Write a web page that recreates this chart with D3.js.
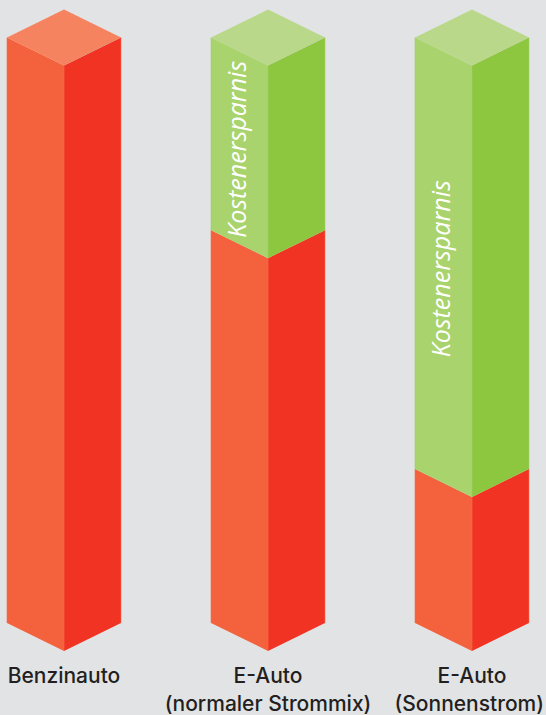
<!DOCTYPE html>
<html>
<head>
<meta charset="utf-8">
<script src="https://cdn.jsdelivr.net/npm/d3@7"></script>
<style>
  html, body { margin: 0; padding: 0; background: #e2e3e5; }
  svg { display: block; }
  .label { font-family: Inter, Roboto, sans-serif; font-weight: 500; font-size: 21px; fill: #231f20; text-anchor: middle; }
  .saving { font-family: "Open Sans", sans-serif; font-style: italic; font-size: 25px; fill: #fff; }
</style>
</head>
<body>
<svg width="546" height="715"></svg>
<script>
const categories = ['Benzinauto', 'E-Auto', 'E-Auto'];
const subLabels = ['', '(normaler Strommix)', '(Sonnenstrom)'];
// share of the petrol car's cost, in percent
const costs = [100, 67.1, 26.3];

const WIDTH = 546;
const HEIGHT = 715;
const HALF = 57; // half width of a column
const DEPTH = 28; // vertical drop of the isometric edges

const colors = {
  cost: {left: '#f3623d', right: '#f13323', top: '#f6835f', edge: '#f5714f'},
  saving: {left: '#a9d36d', right: '#8dc63f', top: '#b9d88a', edge: '#a3d267'},
};

const x = d3.scalePoint()
  .domain(d3.range(categories.length))
  .range([64, 472]);
const y = d3.scaleLinear()
  .domain([0, 100])
  .range([623, 37.5]);

const svg = d3.select('svg')
  .attr('viewBox', `0 0 ${WIDTH} ${HEIGHT}`);

const line = d3.line();

// one block: left and right faces between two values
function drawFaces(g, cx, from, to, c) {
  const y0 = y(from);
  const y1 = y(to);
  g.append('path')
    .attr('d', line([[cx - HALF, y1], [cx, y1 + DEPTH], [cx, y0 + DEPTH], [cx - HALF, y0]]) + 'Z')
    .attr('fill', c.left);
  g.append('path')
    .attr('d', line([[cx, y1 + DEPTH], [cx + HALF, y1], [cx + HALF, y0], [cx, y0 + DEPTH]]) + 'Z')
    .attr('fill', c.right);
  // thin lighter edges
  [cx - HALF, cx, cx + HALF].forEach((ex) => {
    const drop = ex === cx ? DEPTH : 0;
    g.append('path')
      .attr('d', line([[ex, y1 + drop], [ex, y0 + drop]]))
      .attr('stroke', c.edge)
      .attr('stroke-width', 0.6);
  });
}

costs.forEach((cost, i) => {
  const cx = x(i);
  const g = svg.append('g');
  const hasSaving = cost < 100;
  const topColors = hasSaving ? colors.saving : colors.cost;

  drawFaces(g, cx, 0, cost, colors.cost);
  if (hasSaving) {
    drawFaces(g, cx, cost, 100, colors.saving);
  }

  // top face
  const yt = y(100);
  g.append('path')
    .attr('d', line([[cx - HALF, yt], [cx, yt - DEPTH], [cx + HALF, yt], [cx, yt + DEPTH]]) + 'Z')
    .attr('fill', topColors.top);

  if (hasSaving) {
    const mid = (y(100) + y(cost)) / 2 + DEPTH - 12.5;
    g.append('text')
      .attr('class', 'saving')
      .attr('text-anchor', 'middle')
      .attr('transform', `translate(${cx - 22},${mid}) rotate(-90)`)
      .text('Kostenersparnis');
  }

  g.append('text')
    .attr('class', 'label')
    .attr('x', cx)
    .attr('y', 683)
    .text(categories[i]);
  if (subLabels[i]) {
    const sub = g.append('text')
      .attr('class', 'label')
      .attr('x', cx)
      .attr('y', 711)
      .text(subLabels[i]);
    // keep the long label inside the right edge
    const overflow = cx + sub.node().getComputedTextLength() / 2 - (WIDTH - 2);
    if (overflow > 0) {
      sub.attr('x', cx - overflow);
    }
  }
});
</script>
</body>
</html>
